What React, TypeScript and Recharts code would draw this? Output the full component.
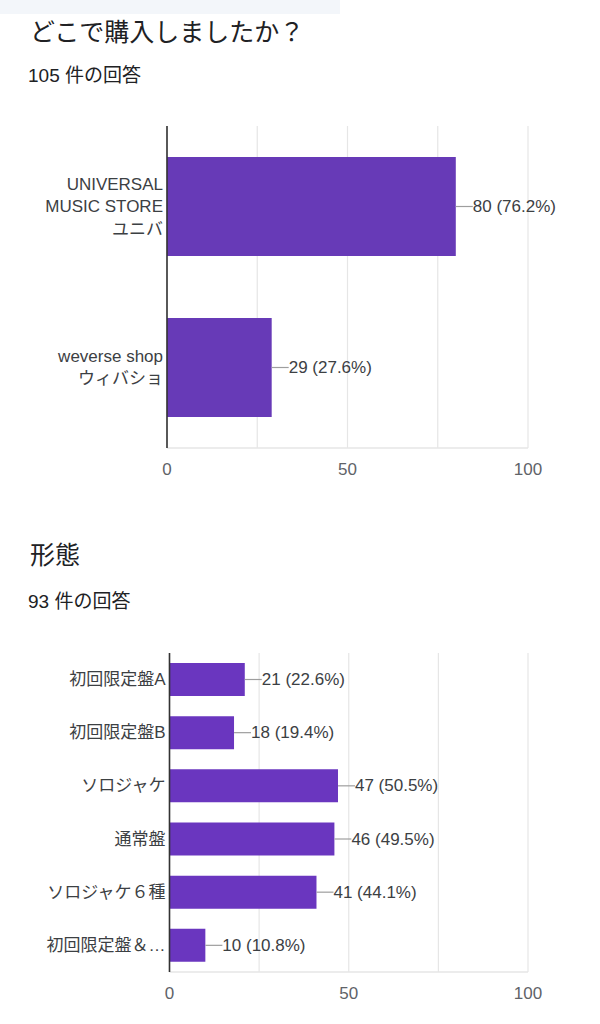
import { Bar, BarChart, CartesianGrid, LabelList, XAxis, YAxis } from "recharts";

const FONT = "'Liberation Sans', Arial, 'Noto Sans CJK JP', sans-serif";

// どこで購入しましたか？
const shopCategories = ["UNIVERSAL\nMUSIC STORE\nユニバ", "weverse shop\nウィバショ"];
const shopCounts = [80, 29];
const shopPercents = [76.2, 27.6];

// 形態
const typeCategories = [
  "初回限定盤A",
  "初回限定盤B",
  "ソロジャケ",
  "通常盤",
  "ソロジャケ６種",
  "初回限定盤＆…",
];
const typeCounts = [21, 18, 47, 46, 41, 10];
const typePercents = [22.6, 19.4, 50.5, 49.5, 44.1, 10.8];

const gridTicks = [0, 25, 50, 75, 100];
const shownTicks = [0, 50, 100];

function CategoryTick(props: any) {
  const { x, y, payload } = props;
  const lines = String(payload.value).split("\n");
  const lh = 22.5;
  const start = y - ((lines.length - 1) * lh) / 2;
  return (
    <text x={x} y={start} textAnchor="end" fill="#3c4043" fontSize={17} fontFamily={FONT}>
      {lines.map((l, i) => (
        <tspan key={i} x={x} y={start + i * lh} dominantBaseline="central">
          {l}
        </tspan>
      ))}
    </text>
  );
}

function valueLabel(percents: number[]) {
  return (props: any) => {
    const { x, y, width, height, value, index } = props;
    const cy = Number(y) + Number(height) / 2;
    const x0 = Number(x) + Number(width);
    return (
      <g>
        <line x1={x0} y1={cy} x2={x0 + 17} y2={cy} stroke="#9e9e9e" strokeWidth={1.2} />
        <text
          x={x0 + 17}
          y={cy}
          dominantBaseline="central"
          fill="#3c4043"
          fontSize={17}
          fontFamily={FONT}
        >
          {`${value} (${percents[index].toFixed(1)}%)`}
        </text>
      </g>
    );
  };
}

function Survey({
  categories,
  counts,
  percents,
  barSize,
  color,
  height,
  marginTop,
  yWidth,
  tickMargin,
}: {
  categories: string[];
  counts: number[];
  percents: number[];
  barSize: number;
  color: string;
  height: number;
  marginTop: number;
  yWidth: number;
  tickMargin: number;
}) {
  const data = categories.map((c, i) => ({ name: c, count: counts[i] }));
  return (
    <BarChart
      layout="vertical"
      width={600}
      height={height}
      data={data}
      margin={{ top: marginTop, right: 72, bottom: 22, left: 0 }}
    >
      <CartesianGrid horizontal={false} stroke="#e6e6e6" strokeWidth={1.2} />
      <XAxis
        type="number"
        domain={[0, 100]}
        ticks={gridTicks}
        interval={0}
        tickFormatter={(v) => (shownTicks.includes(v) ? String(v) : "")}
        axisLine={{ stroke: "#e6e6e6", strokeWidth: 1.5 }}
        tickLine={false}
        tickSize={0}
        tickMargin={tickMargin}
        tick={{ fill: "#5f6368", fontSize: 17, fontFamily: FONT }}
        height={30}
      />
      <XAxis
        xAxisId="top"
        type="number"
        domain={[0, 100]}
        orientation="top"
        axisLine={{ stroke: "#ececec", strokeWidth: 1.2 }}
        tick={false}
        tickLine={false}
        height={0}
      />
      <YAxis
        type="category"
        dataKey="name"
        width={yWidth}
        axisLine={{ stroke: "#333333", strokeWidth: 1.6 }}
        tickLine={false}
        tickSize={0}
        tickMargin={4}
        interval={0}
        tick={<CategoryTick />}
      />
      <Bar dataKey="count" fill={color} barSize={barSize} isAnimationActive={false}>
        <LabelList dataKey="count" content={valueLabel(percents)} />
      </Bar>
    </BarChart>
  );
}

export default function App() {
  const title = {
    position: "absolute" as const,
    left: 30,
    fontSize: 25,
    lineHeight: "25px",
    color: "#202124",
    fontFamily: FONT,
    margin: 0,
    whiteSpace: "nowrap" as const,
  };
  const sub = {
    position: "absolute" as const,
    left: 28,
    fontSize: 19,
    lineHeight: "19px",
    color: "#202124",
    fontFamily: FONT,
    margin: 0,
    whiteSpace: "nowrap" as const,
  };
  return (
    <div
      style={{
        position: "absolute",
        left: 0,
        top: 0,
        width: 600,
        height: 1024,
        background: "#ffffff",
        overflow: "hidden",
      }}
    >
      <div style={{ position: "absolute", left: 0, top: 0, width: 340, height: 14, background: "#f3f6fa" }} />
      <div style={{ ...title, top: 20 }}>どこで購入しましたか？</div>
      <div style={{ ...sub, top: 66 }}>105 件の回答</div>
      <div style={{ position: "absolute", left: 0, top: 100 }}>
        <Survey
          categories={shopCategories}
          counts={shopCounts}
          percents={shopPercents}
          barSize={99}
          color="#673ab7"
          height={400}
          marginTop={26}
          yWidth={167}
          tickMargin={15}
        />
      </div>
      <div style={{ ...title, top: 543 }}>形態</div>
      <div style={{ ...sub, top: 592 }}>93 件の回答</div>
      <div style={{ position: "absolute", left: 0, top: 620 }}>
        <Survey
          categories={typeCategories}
          counts={typeCounts}
          percents={typePercents}
          barSize={33}
          color="#6a36bf"
          height={404}
          marginTop={33}
          yWidth={169.5}
          tickMargin={15}
        />
      </div>
    </div>
  );
}
